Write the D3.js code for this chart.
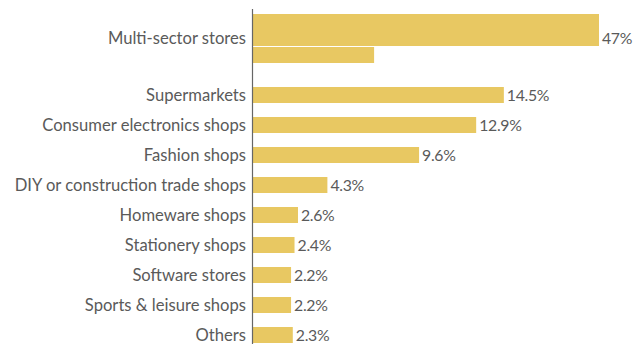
<!DOCTYPE html>
<html>
<head>
<meta charset="utf-8">
<script src="https://cdn.jsdelivr.net/npm/d3@7"></script>
<style>
  html, body { margin: 0; padding: 0; background: #fff; }
  svg { display: block; }
  text { font-family: Lato, "Source Sans Pro", sans-serif; fill: #5a5a5a; }
  text.cat { font-size: 16.6px; }
  text.val { font-size: 15.8px; letter-spacing: -0.3px; }
</style>
</head>
<body>
<svg id="chart" width="634" height="344"></svg>
<script>
const categories = [
  "Multi-sector stores",
  "Supermarkets",
  "Consumer electronics shops",
  "Fashion shops",
  "DIY or construction trade shops",
  "Homeware shops",
  "Stationery shops",
  "Software stores",
  "Sports & leisure shops",
  "Others"
];
const values = [47, 14.5, 12.9, 9.6, 4.3, 2.6, 2.4, 2.2, 2.2, 2.3];
const valueLabels = ["47%", "14.5%", "12.9%", "9.6%", "4.3%", "2.6%", "2.4%", "2.2%", "2.2%", "2.3%"];
const wrapAt = 20; // a bar longer than this continues on the next row

const svg = d3.select("#chart");
const barColor = "#e8c862";
const axisX = 253;
const x = d3.scaleLinear().domain([0, wrapAt]).range([axisX, 599]);

const rowH = 16;
let cursorY = 7;
const layout = categories.map((c, i) => {
  const v = values[i];
  const rows = Math.ceil(v / wrapAt);
  const fullRows = Math.floor(v / wrapAt);
  const rem = v - fullRows * wrapAt;
  const blockH = rows * rowH + (rows > 1 ? 1 : 0);
  const bandH = blockH + 14 + (rows > 1 ? 10 : 0);
  const barTop = cursorY + 7;
  const o = { c, v, rows, fullRows, rem, barTop, blockH, center: barTop + blockH / 2, label: valueLabels[i] };
  cursorY += bandH;
  return o;
});

const g = svg.append("g");

layout.forEach(d => {
  if (d.rows > 1) {
    g.append("rect")
      .attr("x", x(0)).attr("y", d.barTop)
      .attr("width", x(wrapAt) - x(0))
      .attr("height", d.fullRows * rowH)
      .attr("fill", barColor);
    if (d.rem > 0) {
      g.append("rect")
        .attr("x", x(0)).attr("y", d.barTop + d.fullRows * rowH + 1)
        .attr("width", x(d.rem) - x(0))
        .attr("height", rowH)
        .attr("fill", barColor);
    }
  } else {
    g.append("rect")
      .attr("x", x(0)).attr("y", d.barTop)
      .attr("width", x(d.v) - x(0))
      .attr("height", rowH)
      .attr("fill", barColor);
  }
});

g.selectAll("text.cat").data(layout).join("text")
  .attr("class", "cat")
  .attr("x", axisX - 7)
  .attr("y", d => d.center)
  .attr("dy", "0.35em")
  .attr("text-anchor", "end")
  .text(d => d.c);

g.selectAll("text.val").data(layout).join("text")
  .attr("class", "val")
  .attr("x", d => x(Math.min(d.v, wrapAt)) + 3)
  .attr("y", d => d.center)
  .attr("dy", "0.35em")
  .text(d => d.label);

svg.append("line")
  .attr("x1", axisX - 0.5).attr("x2", axisX - 0.5)
  .attr("y1", 9).attr("y2", 344)
  .attr("stroke", "#666").attr("stroke-width", 1.2);
</script>
</body>
</html>
